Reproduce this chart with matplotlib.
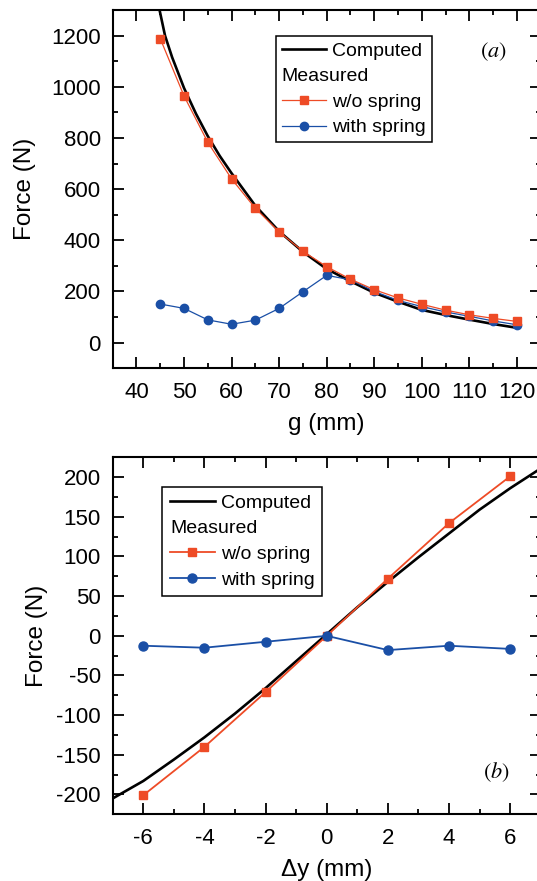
"""
Force vs. gap (a) and force vs. lateral offset (b): computed and measured.
"""

import matplotlib
matplotlib.use('Agg')
import matplotlib.pyplot as plt
from matplotlib.lines import Line2D
from matplotlib.ticker import MultipleLocator

plt.rcParams['font.family'] = ['Liberation Sans', 'DejaVu Sans']
plt.rcParams['mathtext.fontset'] = 'stix'
plt.rcParams['axes.unicode_minus'] = False

RED = '#EE4B26'
BLUE = '#1A4FA6'

# (a) force vs. gap g
gap_computed = [44.85, 46, 47.5, 50, 52.5, 55, 57.5, 60, 65, 70, 75, 80, 85, 90, 95, 100, 105, 110, 115, 120]
force_computed_a = [1300, 1200, 1115, 995, 895, 807, 730, 662, 535, 435, 355, 288, 240, 195, 160, 128, 108, 90, 73, 58]

gap_measured = [45, 50, 55, 60, 65, 70, 75, 80, 85, 90, 95, 100, 105, 110, 115, 120]
force_no_spring_a = [1188, 964, 783, 640, 525, 433, 357, 297, 248, 207, 175, 150, 127, 109, 95, 83]
force_spring_a = [151, 134, 89, 72, 88, 134, 199, 263, 246, 200, 165, 141, 120, 103, 85, 70]

# (b) force vs. lateral offset dy
dy_computed = [-7, -6, -5, -4, -3, -2, -1, 0, 1, 2, 3, 4, 5, 6, 7]
force_computed_b = [-205, -183, -156, -128, -98, -66, -32, 2, 36, 68, 99, 129, 159, 186, 211]

dy_measured = [-6, -4, -2, 0, 2, 4, 6]
force_no_spring_b = [-201, -140, -71, 0, 72, 142, 201]
force_spring_b = [-12.5, -15, -7.5, 0, -18, -12.5, -16.5]

legend_labels = ['Computed', 'Measured', 'w/o spring', 'with spring']


def style_axes(ax, x_major, x_minor, y_major, y_minor):
    """Inward ticks on all four sides, Origin-like frame."""
    for spine in ax.spines.values():
        spine.set_linewidth(1.5)
    ax.xaxis.set_major_locator(MultipleLocator(x_major))
    ax.xaxis.set_minor_locator(MultipleLocator(x_minor))
    ax.yaxis.set_major_locator(MultipleLocator(y_major))
    ax.yaxis.set_minor_locator(MultipleLocator(y_minor))
    ax.tick_params(which='both', direction='in', top=True, right=True, width=1.3, labelsize=16)
    ax.tick_params(which='major', length=7.7)
    ax.tick_params(which='minor', length=3.8)
    ax.tick_params(axis='x', pad=10)
    ax.tick_params(axis='y', pad=8.5)


def add_legend(ax, handles, anchor, borderpad):
    """Legend with a 'Measured' header row that has no handle."""
    leg = ax.legend(handles, legend_labels, loc='upper left', bbox_to_anchor=anchor,
                    borderaxespad=0, fancybox=False, fontsize=14, handlelength=2.3,
                    handletextpad=0.3, labelspacing=0.42, borderpad=borderpad,
                    framealpha=1)
    frame = leg.get_frame()
    frame.set_edgecolor('black')
    frame.set_linewidth(1.1)
    # drop the empty handle of the 'Measured' row so its text sits flush left
    column = leg._legend_handle_box.get_children()[0]
    row = column.get_children()[1]
    row.get_children().pop(0)
    return leg


def main():
    fig = plt.figure(figsize=(5.37, 8.81), dpi=100)

    # ---- (a) ----
    ax_a = fig.add_axes([0.2099, 0.5820, 0.797, 0.4066])
    ax_a.plot(gap_computed, force_computed_a, color='black', lw=1.9, zorder=2)
    ax_a.plot(gap_measured, force_spring_a, color=BLUE, lw=0.9, marker='o', ms=6, zorder=3)
    ax_a.plot(gap_measured, force_no_spring_a, color=RED, lw=0.9, marker='s', ms=5.5, zorder=4)
    ax_a.set_xlim(35, 125)
    ax_a.set_ylim(-100, 1300)
    style_axes(ax_a, 10, 5, 200, 100)
    ax_a.set_xlabel('g (mm)', fontsize=17.5, labelpad=7)
    ax_a.set_ylabel('Force (N)', fontsize=17.5, labelpad=11)
    ax_a.text(0.8886, 0.883, r'$(\mathit{a})$', transform=ax_a.transAxes,
              fontsize=16, ha='center', va='center')
    handles_a = [
        Line2D([], [], color='black', lw=1.9),
        Line2D([], [], linestyle='none'),
        Line2D([], [], color=RED, lw=0.9, marker='s', ms=5.5),
        Line2D([], [], color=BLUE, lw=0.9, marker='o', ms=6),
    ]
    add_legend(ax_a, handles_a, (0.381, 0.927), 0.3)

    # ---- (b) ----
    ax_b = fig.add_axes([0.2099, 0.0757, 0.797, 0.4052])
    ax_b.plot(dy_computed, force_computed_b, color='black', lw=1.9, zorder=2)
    ax_b.plot(dy_measured, force_no_spring_b, color=RED, lw=1.3, marker='s', ms=6, zorder=3)
    ax_b.plot(dy_measured, force_spring_b, color=BLUE, lw=1.3, marker='o', ms=6.5, zorder=4)
    ax_b.set_xlim(-7, 7)
    ax_b.set_ylim(-225, 225)
    style_axes(ax_b, 2, 1, 50, 25)
    ax_b.set_xlabel('\u0394y (mm)', fontsize=17.5, labelpad=7)
    ax_b.set_ylabel('Force (N)', fontsize=17.5, labelpad=6)
    ax_b.text(0.897, 0.1193, r'$(\mathit{b})$', transform=ax_b.transAxes,
              fontsize=16, ha='center', va='center')
    handles_b = [
        Line2D([], [], color='black', lw=1.9),
        Line2D([], [], linestyle='none'),
        Line2D([], [], color=RED, lw=1.3, marker='s', ms=6),
        Line2D([], [], color=BLUE, lw=1.3, marker='o', ms=6.5),
    ]
    add_legend(ax_b, handles_b, (0.1157, 0.918), 0.4)

    fig.savefig('out.png', dpi=100)
    print('saved out.png')


if __name__ == '__main__':
    main()
